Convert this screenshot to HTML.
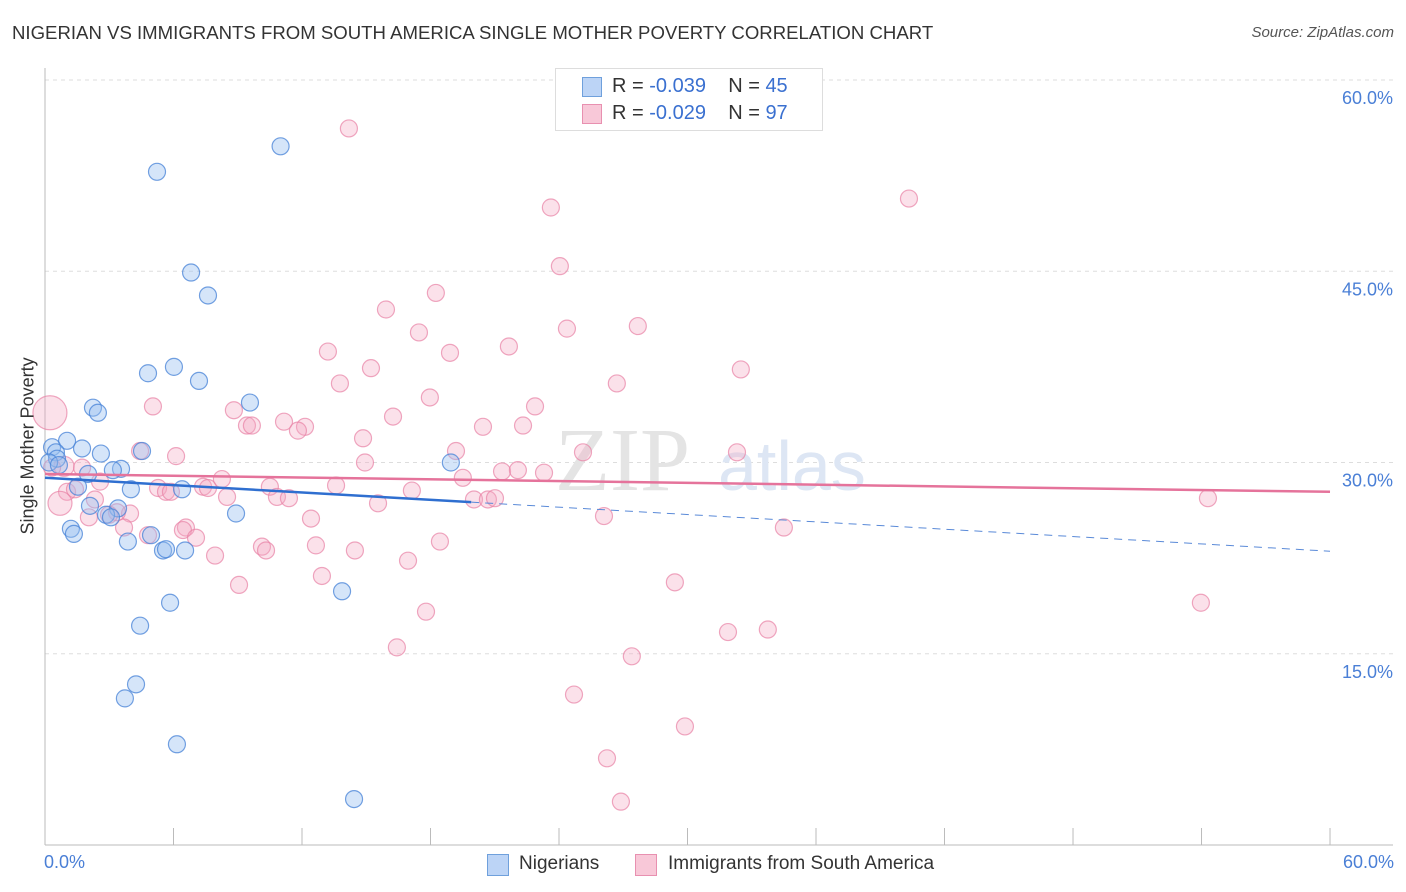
<!DOCTYPE html>
<html><head><meta charset="utf-8">
<style>
body{margin:0;background:#fff;font-family:"Liberation Sans",sans-serif;}
#wrap{position:relative;width:1406px;height:892px;overflow:hidden;}
.t{position:absolute;white-space:nowrap;}
</style></head>
<body>
<div id="wrap">
<div class="t" style="left:12px;top:22px;font-size:18.6px;color:#333;">NIGERIAN VS IMMIGRANTS FROM SOUTH AMERICA SINGLE MOTHER POVERTY CORRELATION CHART</div>
<div class="t" style="right:12px;top:24px;font-size:15px;color:#555;font-style:italic;">Source: ZipAtlas.com</div>
<svg id="svg" width="1406" height="892" style="position:absolute;left:0;top:0"></svg>
</div>
<script>
const yTicks=[15,30,45,60];
const yTickLabels=["15.0%","30.0%","45.0%","60.0%"];
const xTicks=[0,6,12,18,24,30,36,42,48,54,60];
const blueX=[11.0,5.23,6.82,7.61,6.02,4.81,7.19,9.57,2.24,2.47,1.03,0.33,1.73,0.51,4.53,2.61,0.56,0.19,18.95,3.55,3.17,2.01,0.65,1.54,4.01,6.40,2.10,3.41,2.85,3.08,8.92,1.21,1.35,3.87,4.95,5.51,5.65,6.54,13.87,5.84,4.44,4.25,3.73,6.16,14.43];
const blueY=[54.8,52.8,44.9,43.1,37.5,37.0,36.4,34.7,34.3,33.9,31.7,31.2,31.1,30.8,30.9,30.7,30.3,30.0,30.0,29.5,29.4,29.1,29.8,28.1,27.9,27.9,26.6,26.4,25.9,25.7,26.0,24.8,24.4,23.8,24.3,23.1,23.2,23.1,19.9,19.0,17.2,12.6,11.5,7.9,3.6];
const pinkX=[14.19,40.34,23.62,24.04,15.92,18.25,17.46,24.37,27.68,21.66,13.21,18.91,15.22,32.49,13.77,26.70,17.97,22.88,5.04,8.82,16.25,11.16,9.43,9.66,12.14,11.81,20.45,22.32,14.85,4.44,32.31,6.12,19.19,25.12,14.94,21.34,22.08,23.30,1.73,19.51,8.26,2.57,13.59,10.50,5.28,5.65,5.88,7.38,7.61,8.50,10.83,11.39,17.13,20.03,20.68,21.01,1.03,1.40,2.33,15.55,54.30,3.97,3.36,2.05,2.99,12.42,26.10,6.58,6.44,3.69,4.81,7.05,34.50,18.44,10.13,10.32,12.65,14.47,16.95,7.94,12.93,9.06,29.41,17.79,53.97,31.89,33.75,16.43,27.40,24.70,29.88,26.24,26.89,0.23,0.70,0.89,0.33];
const pinkY=[56.2,50.7,50.0,45.4,42.0,43.3,40.2,40.5,40.7,39.1,38.7,38.6,37.4,37.3,36.2,36.2,35.1,34.4,34.4,34.1,33.6,33.2,32.9,32.9,32.8,32.5,32.8,32.9,31.9,30.9,30.8,30.5,30.9,30.8,30.0,29.3,29.4,29.2,29.6,28.8,28.7,28.5,28.2,28.1,28.0,27.7,27.7,28.1,28.0,27.3,27.3,27.2,27.8,27.1,27.1,27.2,27.7,27.9,27.1,26.8,27.2,26.0,26.1,25.7,25.9,25.6,25.8,24.9,24.7,24.9,24.3,24.1,24.9,23.8,23.4,23.1,23.5,23.1,22.3,22.7,21.1,20.4,20.6,18.3,19.0,16.7,16.9,15.5,14.8,11.8,9.3,6.8,3.4,33.9,26.8,29.7,29.6];
const pinkR=[];for(let i=0;i<pinkX.length;i++)pinkR.push(8.5);
pinkR[93]=17;pinkR[94]=12;pinkR[95]=10;
const blueTrend=[28.8,-0.096]; // intercept, slope
const pinkTrend=[29.1,-0.0233];
const blueSolidEnd=19.9;
const X=v=>45+v*21.417, Y=v=>845-v*12.75;
const S=document.getElementById('svg'),NS='http://www.w3.org/2000/svg';
function mk(t,a,p){const e=document.createElementNS(NS,t);for(const k in a)e.setAttribute(k,a[k]);(p||S).appendChild(e);return e;}
yTicks.forEach((t,i)=>{const g=mk('line',{x1:45,x2:1393,y1:Y(t),y2:Y(t),stroke:'#ddd','stroke-dasharray':'4,4'});

const tx=mk('text',{x:1393,y:Y(t)+24,'text-anchor':'end','font-size':18,fill:'#4a7fd6','font-family':'Liberation Sans'});tx.textContent=yTickLabels[i];
});
const ax=mk('line',{x1:45,x2:45,y1:68,y2:845,stroke:'#bbb'});
const bx=mk('line',{x1:45,x2:1393,y1:845,y2:845,stroke:'#bbb'});
xTicks.forEach(t=>{const l=mk('line',{x1:X(t),x2:X(t),y1:828,y2:845,stroke:'#bbb'});});
const wm=mk('text',{x:555,y:490,'font-size':90,fill:'#e4e4e4','font-family':'Liberation Serif'});wm.textContent='ZIP';
const wm2=mk('text',{x:718,y:490,'font-size':70,fill:'#dde6f4','font-family':'Liberation Sans'});wm2.textContent='atlas';
pinkX.forEach((v,i)=>{const c=mk('circle',{cx:X(v),cy:Y(pinkY[i]),r:pinkR[i],fill:'rgba(244,170,196,0.35)',stroke:'rgba(232,130,165,0.7)','stroke-width':1.2});
});
blueX.forEach((v,i)=>{const c=mk('circle',{cx:X(v),cy:Y(blueY[i]),r:8.5,fill:'rgba(150,190,240,0.4)',stroke:'rgba(70,130,215,0.75)','stroke-width':1.2});
});
const by=v=>blueTrend[0]+blueTrend[1]*v, py=v=>pinkTrend[0]+pinkTrend[1]*v;
const l1=mk('line',{x1:X(0),y1:Y(by(0)),x2:X(blueSolidEnd),y2:Y(by(blueSolidEnd)),stroke:'#2f6fd0','stroke-width':2.5});
const l2=mk('line',{x1:X(blueSolidEnd),y1:Y(by(blueSolidEnd)),x2:X(60),y2:Y(by(60)),stroke:'#5a8ad8','stroke-width':1,'stroke-dasharray':'8,6'});
const l3=mk('line',{x1:X(0),y1:Y(py(0)),x2:X(60),y2:Y(py(60)),stroke:'#e5739b','stroke-width':2.5});
</script>
<div class="t" style="left:-52px;top:444px;font-size:18px;color:#333;transform:rotate(-90deg);transform-origin:center;width:160px;text-align:center;">Single Mother Poverty</div>
<div class="t" style="left:44px;top:852px;font-size:18px;color:#4a7fd6;">0.0%</div>
<div class="t" style="right:12px;top:852px;font-size:18px;color:#4a7fd6;">60.0%</div>
<div style="position:absolute;left:555px;top:68px;width:266px;height:61px;border:1px solid #ddd;background:#fff;font-size:20px;color:#333;">
<div style="position:absolute;left:26px;top:8px;width:18px;height:18px;background:#bcd4f6;border:1px solid #6fa0dc;"></div>
<div class="t" style="left:56px;top:6px;">R = <span style="color:#3a70d0">-0.039</span>&nbsp;&nbsp;&nbsp; N = <span style="color:#3a70d0">45</span></div>
<div style="position:absolute;left:26px;top:35px;width:18px;height:18px;background:#f8c8d8;border:1px solid #e890b0;"></div>
<div class="t" style="left:56px;top:33px;">R = <span style="color:#3a70d0">-0.029</span>&nbsp;&nbsp;&nbsp; N = <span style="color:#3a70d0">97</span></div>
</div>
<div style="position:absolute;left:487px;top:853px;font-size:19px;color:#333;">
<div style="position:absolute;left:0;top:1px;width:20px;height:20px;background:#bcd4f6;border:1px solid #6fa0dc;"></div>
<div class="t" style="left:32px;top:0;">Nigerians</div>
<div style="position:absolute;left:148px;top:1px;width:20px;height:20px;background:#f8c8d8;border:1px solid #e890b0;"></div>
<div class="t" style="left:181px;top:0;">Immigrants from South America</div>
</div>
</body></html>
